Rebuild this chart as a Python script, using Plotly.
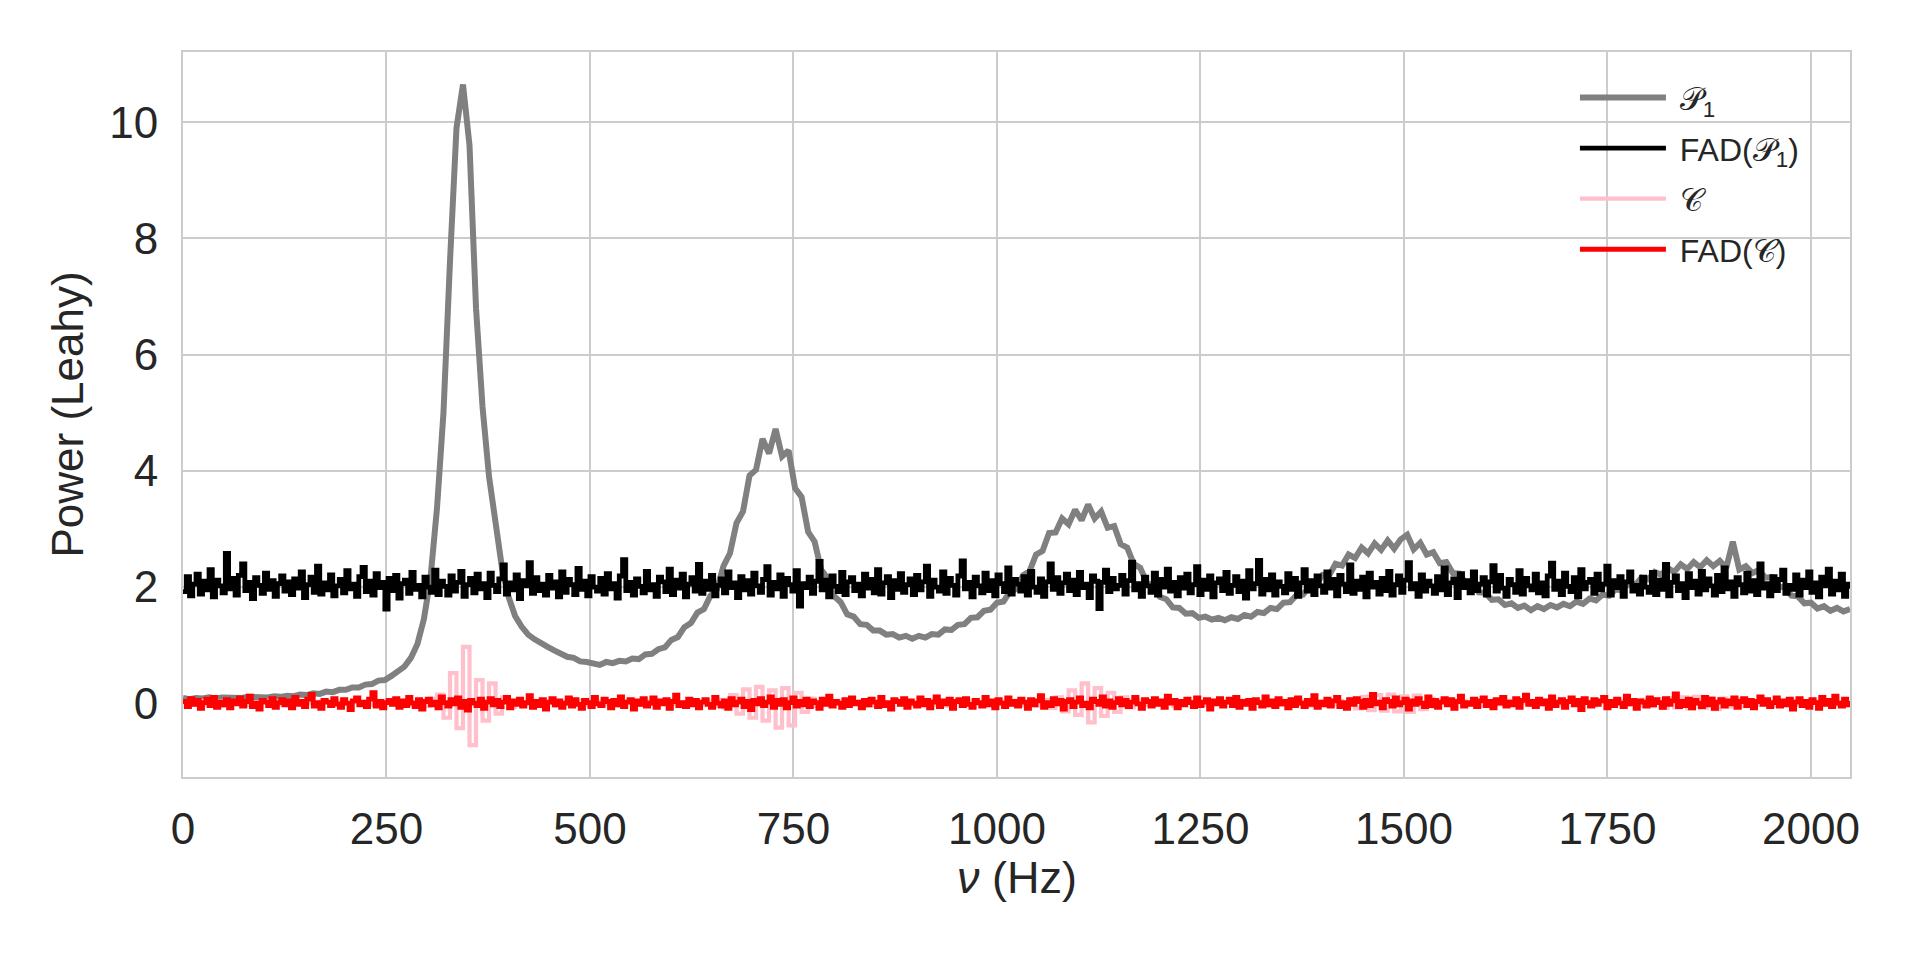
import plotly.graph_objects as go

# Frequency grids (Hz): bin width of each series
P1_DF = 8
FAD_DF = 4
C_DF = 8

# P1 power spectrum (Leahy), 8 Hz bins from 0 to 2048 Hz
p1 = [
    0.09, 0.07, 0.09, 0.08, 0.10, 0.08, 0.10, 0.09, 0.10, 0.09, 0.11, 0.10, 0.11, 0.10, 0.12, 0.11,
    0.13, 0.12, 0.15, 0.14, 0.17, 0.16, 0.20, 0.19, 0.23, 0.23, 0.27, 0.27, 0.32, 0.33, 0.39, 0.40,
    0.47, 0.54, 0.63, 0.78, 1.02, 1.45, 2.15, 3.35, 5.0, 7.6, 9.9, 10.65, 9.6, 6.8, 5.1, 3.9,
    3.05, 2.32, 1.83, 1.50, 1.32, 1.18, 1.10, 1.02, 0.97, 0.91, 0.86, 0.80, 0.78, 0.72, 0.71, 0.68,
    0.66, 0.71, 0.69, 0.73, 0.72, 0.77, 0.76, 0.84, 0.85, 0.93, 0.96, 1.09, 1.14, 1.31, 1.38, 1.56,
    1.62, 1.85, 1.96, 2.36, 2.58, 3.10, 3.30, 3.92, 4.02, 4.55, 4.30, 4.72, 4.25, 4.35, 3.70, 3.55,
    2.95, 2.78, 2.30, 2.15, 1.84, 1.74, 1.53, 1.49, 1.36, 1.35, 1.25, 1.25, 1.18, 1.19, 1.13, 1.16,
    1.11, 1.16, 1.13, 1.19, 1.18, 1.27, 1.26, 1.35, 1.36, 1.47, 1.48, 1.59, 1.61, 1.73, 1.75, 1.92,
    1.97, 2.20, 2.27, 2.56, 2.62, 2.93, 2.94, 3.18, 3.08, 3.33, 3.15, 3.42, 3.18, 3.30, 3.02, 3.05,
    2.74, 2.68, 2.40, 2.33, 2.08, 2.02, 1.83, 1.79, 1.65, 1.64, 1.54, 1.55, 1.47, 1.49, 1.44, 1.47,
    1.43, 1.48, 1.45, 1.52, 1.49, 1.57, 1.55, 1.64, 1.62, 1.73, 1.74, 1.86, 1.87, 2.02, 2.04, 2.21,
    2.20, 2.40, 2.37, 2.56, 2.50, 2.68, 2.58, 2.75, 2.64, 2.80, 2.66, 2.82, 2.90, 2.65, 2.76, 2.56,
    2.60, 2.41, 2.43, 2.24, 2.23, 2.06, 2.05, 1.91, 1.90, 1.78, 1.79, 1.69, 1.72, 1.64, 1.68, 1.60,
    1.67, 1.62, 1.69, 1.65, 1.71, 1.67, 1.75, 1.71, 1.80, 1.77, 1.87, 1.85, 1.96, 1.94, 2.06, 2.03,
    2.16, 2.13, 2.26, 2.21, 2.33, 2.26, 2.39, 2.31, 2.43, 2.34, 2.46, 2.36, 2.45, 2.33, 2.78, 2.30,
    2.36, 2.24, 2.29, 2.16, 2.17, 2.01, 1.99, 1.85, 1.84, 1.72, 1.73, 1.63, 1.67, 1.59, 1.64, 1.58,
    1.62,
]

# FAD-corrected P1, 4 Hz bins
fad_p1 = [
    1.92, 2.18, 1.85, 2.05, 2.22, 1.88, 2.10, 1.95, 2.30, 1.83, 2.12, 2.02, 1.90, 2.58, 1.97, 2.15,
    1.86, 2.20, 2.40, 1.94, 2.08, 1.80, 2.16, 2.03, 1.89, 2.24, 1.96, 2.11, 1.84, 2.06, 2.19, 1.93,
    2.09, 1.87, 2.14, 1.98, 2.26, 1.82, 2.04, 2.17, 1.91, 2.36, 1.88, 2.07, 1.95, 2.21, 1.85, 2.02,
    2.13, 1.90, 2.28, 1.97, 2.05, 1.84, 2.18, 2.34, 1.92, 2.10, 1.86, 2.23, 1.99, 2.08, 1.62, 2.15,
    1.94, 2.20, 1.81, 2.06, 2.12, 1.89, 2.25, 1.96, 2.03, 1.83, 2.17, 2.00, 1.91, 2.29, 1.87, 2.10,
    2.01, 1.86, 2.19, 1.93, 2.08, 2.27, 1.84, 2.04, 2.15, 1.90, 2.22, 1.97, 2.06, 1.82, 2.24, 2.03,
    1.92, 2.14, 2.38, 1.88, 2.07, 1.95, 2.21, 1.80, 2.11, 2.02, 2.42, 1.89, 2.16, 1.94, 2.05, 1.86,
    2.20, 1.98, 2.09, 1.83, 2.26, 1.91, 2.13, 2.04, 1.87, 2.32, 1.96, 2.10, 1.85, 2.18, 2.00, 1.93,
    2.15, 1.88, 2.23, 1.97, 2.06, 1.81, 2.19, 2.47, 1.94, 2.08, 1.86, 2.14, 2.01, 1.90, 2.27, 1.95,
    2.04, 1.84, 2.17, 2.09, 1.92, 2.31, 1.87, 2.12, 1.98, 2.22, 1.83, 2.05, 2.16, 1.93, 2.39, 1.89,
    2.10, 1.96, 2.20, 1.85, 2.03, 2.14, 1.90, 2.26, 1.99, 2.07, 1.82, 2.18, 1.95, 2.11, 1.88, 2.24,
    2.02, 1.91, 2.13, 2.35, 1.86, 2.08, 1.97, 2.21, 1.84, 2.15, 2.04, 1.93, 2.28, 1.67, 2.06, 1.99,
    2.17, 1.89, 2.10, 2.44, 1.95, 2.12, 1.83, 2.19, 2.01, 1.92, 2.25, 1.87, 2.09, 2.16, 1.94, 2.05,
    1.85, 2.22, 1.98, 2.13, 1.90, 2.30, 1.88, 2.07, 2.18, 1.82, 2.11, 1.96, 2.23, 1.91, 2.04, 2.14,
    1.87, 2.20, 1.95, 2.09, 2.36, 1.84, 2.12, 2.00, 1.93, 2.26, 1.89, 2.15, 2.03, 1.86, 2.19, 2.45,
    1.97, 2.08, 1.83, 2.17, 2.02, 1.90, 2.24, 1.94, 2.11, 1.85, 2.21, 2.06, 1.92, 2.33, 1.88, 2.13,
    2.05, 1.93, 2.18, 1.86, 2.27, 2.00, 1.91, 2.14, 1.84, 2.09, 2.40, 1.96, 2.16, 1.89, 2.07, 2.22,
    1.94, 2.12, 1.87, 2.25, 1.99, 2.05, 1.82, 2.19, 2.10, 1.63, 2.08, 2.29, 1.92, 2.15, 1.97, 2.03,
    2.20, 1.88, 2.11, 2.43, 1.95, 2.06, 1.84, 2.17, 2.02, 1.91, 2.24, 1.86, 2.13, 2.00, 2.31, 1.93,
    2.08, 1.85, 2.16, 1.98, 2.22, 1.90, 2.04, 2.35, 1.87, 2.12, 1.96, 2.19, 1.83, 2.07, 2.14, 1.94,
    2.25, 1.89, 2.03, 2.18, 1.92, 2.10, 1.81, 2.28, 1.97, 2.06, 2.46, 1.88, 2.13, 1.95, 2.21, 1.86,
    2.09, 2.01, 1.90, 2.23, 1.96, 2.15, 1.84, 2.07, 2.30, 1.93, 2.11, 1.87, 2.19, 2.02, 1.91, 2.26,
    1.98, 2.13, 1.85, 2.20, 2.05, 1.92, 2.38, 1.89, 2.10, 1.96, 2.17, 1.83, 2.24, 2.00, 2.08, 1.88,
    2.15, 1.94, 2.27, 1.86, 2.04, 2.19, 1.91, 2.12, 2.42, 1.97, 2.06, 1.84, 2.21, 1.93, 2.10, 2.02,
    1.89, 2.18, 1.95, 2.33, 1.87, 2.07, 2.14, 1.82, 2.23, 1.99, 2.11, 1.90, 2.26, 1.94, 2.05, 2.16,
    1.86, 2.09, 2.37, 1.93, 2.20, 1.98, 1.84, 2.13, 2.04, 1.91, 2.28, 1.88, 2.15, 2.02, 1.95, 2.22,
    1.90, 2.07, 1.85, 2.19, 2.41, 1.96, 2.10, 1.87, 2.24, 2.01, 1.92, 2.16, 1.83, 2.30, 1.97, 2.08,
    2.13, 1.89, 2.22, 1.95, 2.05, 2.36, 1.86, 2.11, 1.99, 2.18, 1.84, 2.09, 2.26, 1.93, 2.03, 1.88,
    2.17, 2.00, 1.91, 2.25, 1.87, 2.12, 1.96, 2.39, 1.85, 2.08, 2.19, 1.94, 2.06, 1.82, 2.23, 1.99,
    2.10, 1.88, 2.27, 1.95, 2.14, 2.02, 1.86, 2.20, 1.92, 2.33, 1.97, 2.09, 1.84, 2.16, 2.04, 1.90,
    2.24, 1.93, 2.11, 1.87, 2.40, 1.98, 2.06, 1.85, 2.18, 1.94, 2.13, 2.29, 1.89, 2.03, 1.96, 2.21,
    1.86, 2.12, 1.99, 2.26, 1.91, 2.07, 1.83, 2.17, 2.02, 2.31, 1.88, 2.10, 1.95, 2.22, 1.84, 2.05,
    1.97,
]

# Cross spectrum C, 8 Hz bins
c_spec = [
    0.02, -0.03, 0.04, -0.02, 0.01, 0.03, -0.04, 0.02, -0.01, 0.03, -0.03, 0.02, 0.04, -0.02, 0.01, -0.03,
    0.02, 0.03, -0.02, 0.01, -0.04, 0.03, 0.02, -0.03, 0.04, -0.01, 0.02, -0.03, 0.03, -0.02, 0.01, 0.04,
    -0.02, 0.03, -0.03, 0.02, 0.04, -0.05, 0.08, 0.15, -0.25, 0.52, -0.43, 0.97, -0.72, 0.40, -0.30, 0.34,
    -0.18, 0.10, -0.06, 0.03, -0.02, 0.04, -0.03, 0.02, 0.01, -0.04, 0.03, -0.02, 0.02, 0.04, -0.03, 0.01,
    0.03, -0.02, 0.02, -0.04, 0.03, 0.01, -0.03, 0.04, -0.02, 0.02, 0.03, -0.01, -0.03, 0.02, 0.04, -0.02,
    0.03, -0.04, 0.06, -0.08, 0.14, -0.18, 0.24, -0.25, 0.28, -0.30, 0.22, -0.42, 0.26, -0.38, 0.18, -0.15,
    0.08, -0.05, 0.03, -0.02, 0.04, -0.03, 0.02, -0.01, 0.03, -0.04, 0.02, 0.01, -0.03, 0.04, -0.02, 0.03,
    -0.03, 0.02, 0.04, -0.02, 0.01, -0.04, 0.03, 0.02, -0.03, 0.04, -0.01, 0.02, -0.03, 0.03, 0.01, -0.02,
    0.04, -0.03, 0.02, -0.04, 0.06, -0.08, 0.10, -0.14, 0.22, -0.20, 0.34, -0.33, 0.26, -0.22, 0.18, -0.15,
    0.10, -0.07, 0.05, -0.03, 0.02, 0.04, -0.02, 0.03, -0.04, 0.01, 0.03, -0.02, 0.02, -0.03, 0.04, -0.01,
    0.02, -0.03, 0.04, -0.02, 0.01, 0.03, -0.04, 0.02, -0.03, 0.04, 0.01, -0.02, 0.03, -0.04, 0.02, 0.03,
    -0.02, 0.04, -0.05, 0.07, -0.09, 0.11, -0.12, 0.14, -0.13, 0.15, -0.14, 0.12, -0.15, 0.13, -0.10, 0.08,
    -0.06, 0.05, -0.03, 0.02, 0.04, -0.02, 0.03, -0.04, 0.01, 0.03, -0.02, 0.04, -0.03, 0.02, 0.01, -0.03,
    0.04, -0.02, 0.03, -0.03, 0.02, 0.04, -0.01, 0.03, -0.04, 0.02, 0.03, -0.02, 0.04, -0.03, 0.05, -0.04,
    0.06, -0.05, 0.07, -0.08, 0.09, -0.07, 0.10, -0.09, 0.11, -0.08, 0.09, -0.10, 0.08, -0.06, 0.07, -0.05,
    0.04, -0.03, 0.02, 0.03, -0.04, 0.02, -0.02, 0.04, -0.03, 0.01, 0.03, -0.02, 0.04, -0.03, 0.02, -0.01,
    0.02,
]

# FAD-corrected C, 4 Hz bins
fad_c = [
    0.03, -0.06, 0.08, -0.02, 0.05, -0.09, 0.01, 0.07, -0.04, 0.10, -0.07, 0.02, -0.03, 0.06, -0.08, 0.04,
    -0.01, 0.09, -0.05, 0.03, 0.12, -0.06, 0.00, -0.10, 0.05, 0.02, -0.04, 0.08, -0.07, 0.01, 0.06, -0.03,
    0.04, -0.08, 0.10, -0.02, 0.03, -0.06, 0.07, 0.15, -0.05, 0.01, -0.09, 0.05, 0.02, -0.04, 0.08, -0.01,
    -0.07, 0.06, 0.00, -0.11, 0.04, 0.09, -0.03, 0.02, -0.06, 0.07, 0.18, -0.05, 0.03, -0.08, 0.01, 0.05,
    -0.02, 0.08, -0.07, 0.04, -0.04, 0.10, 0.00, -0.06, 0.06, -0.10, 0.03, 0.07, -0.03, 0.02, -0.08, 0.11,
    0.01, -0.05, 0.06, -0.01, 0.09, -0.07, 0.03, -0.12, 0.05, 0.00, -0.04, 0.07, -0.09, 0.02, 0.08, -0.03,
    0.05, -0.06, 0.02, 0.10, -0.08, 0.04, -0.02, 0.07, -0.05, 0.01, 0.13, -0.07, 0.03, -0.04, 0.06, -0.10,
    0.02, 0.08, -0.03, 0.04, -0.07, 0.00, 0.09, -0.05, 0.06, -0.02, -0.09, 0.05, 0.01, -0.06, 0.10, -0.01,
    -0.04, 0.07, 0.03, -0.08, 0.05, -0.03, 0.11, -0.06, 0.02, 0.06, -0.10, 0.04, -0.02, 0.08, -0.05, 0.00,
    0.09, -0.07, 0.04, -0.01, 0.06, -0.09, 0.03, 0.14, -0.04, 0.01, -0.06, 0.07, -0.03, 0.05, -0.08, 0.02,
    0.06, -0.02, -0.07, 0.10, 0.00, -0.05, 0.04, -0.09, 0.08, -0.03, 0.02, 0.07, -0.06, 0.03, -0.11, 0.05,
    -0.01, 0.08, -0.04, 0.02, 0.11, -0.07, 0.05, -0.02, 0.06, -0.08, 0.01, 0.09, -0.05, 0.03, -0.03, 0.07,
    -0.06, 0.04, 0.01, -0.09, 0.07, -0.02, 0.12, -0.05, 0.03, 0.00, -0.07, 0.06, -0.04, 0.09, -0.01, 0.02,
    -0.08, 0.05, -0.03, 0.07, 0.02, -0.06, 0.10, -0.04, 0.01, -0.10, 0.06, 0.03, -0.02, 0.08, -0.07, 0.04,
    0.00, -0.05, 0.09, -0.03, 0.05, -0.08, 0.02, 0.11, -0.06, 0.04, -0.01, 0.07, -0.09, 0.03, 0.06, -0.04,
    0.08, -0.02, -0.07, 0.05, 0.01, -0.05, 0.10, -0.03, 0.04, -0.08, 0.06, 0.00, -0.06, 0.09, -0.02, 0.03,
    -0.05, 0.07, 0.02, -0.09, 0.06, -0.03, 0.04, 0.13, -0.07, 0.01, -0.04, 0.08, -0.01, 0.05, -0.10, 0.03,
    0.06, -0.06, 0.02, 0.09, -0.04, 0.00, -0.08, 0.07, 0.03, -0.02, 0.11, -0.05, 0.04, -0.07, 0.01, 0.08,
    -0.03, 0.05, -0.06, 0.02, 0.10, -0.01, -0.09, 0.06, 0.03, -0.05, 0.08, -0.02, 0.04, -0.07, 0.12, 0.00,
    0.05, -0.08, 0.03, -0.03, 0.07, 0.01, -0.06, 0.09, -0.04, 0.02, 0.06, -0.10, 0.04, -0.01, 0.08, -0.05,
    0.02, 0.07, -0.04, 0.10, -0.07, 0.03, -0.02, 0.05, -0.09, 0.06, 0.01, -0.05, 0.11, -0.03, 0.04, -0.06,
    0.08, -0.01, 0.03, -0.08, 0.06, -0.04, 0.09, 0.00, -0.06, 0.05, -0.02, 0.13, -0.07, 0.02, -0.03, 0.07,
    -0.05, 0.04, 0.10, -0.06, 0.01, -0.09, 0.06, -0.02, 0.08, 0.03, -0.07, 0.05, -0.04, 0.15, -0.01, 0.02,
    -0.08, 0.06, 0.03, -0.05, 0.09, -0.03, 0.01, 0.07, -0.10, 0.04, -0.02, 0.08, 0.00, -0.06, 0.11, -0.04,
    0.05, -0.07, 0.02, 0.08, -0.03, 0.06, -0.09, 0.03, 0.12, -0.05, 0.01, -0.02, 0.07, -0.06, 0.04, 0.09,
    -0.04, 0.03, -0.08, 0.06, 0.00, 0.10, -0.05, 0.02, -0.03, 0.08, -0.07, 0.05, 0.14, -0.02, 0.03, -0.06,
    0.07, -0.01, 0.04, -0.09, 0.11, -0.04, 0.02, 0.06, -0.07, 0.03, 0.09, -0.03, 0.05, -0.11, 0.08, 0.01,
    -0.05, 0.06, -0.02, 0.04, 0.10, -0.08, 0.03, -0.04, 0.07, 0.00, -0.06, 0.12, -0.01, 0.05, -0.09, 0.04,
    0.02, -0.05, 0.09, -0.03, 0.06, 0.01, -0.07, 0.08, -0.02, 0.04, 0.16, -0.06, 0.03, -0.04, 0.07, -0.08,
    0.05, 0.00, -0.06, 0.10, -0.03, 0.07, -0.09, 0.02, 0.06, -0.05, 0.04, -0.01, 0.09, -0.07, 0.03, 0.08,
    -0.04, 0.05, -0.08, 0.03, 0.11, -0.02, 0.06, -0.06, 0.01, 0.09, -0.05, 0.04, -0.03, 0.07, -0.10, 0.02,
    0.08, -0.04, 0.03, -0.07, 0.06, 0.01, -0.09, 0.10, -0.02, 0.05, -0.06, 0.12, 0.00, -0.05, 0.07, -0.03,
    0.04,
]

labels = ["\u00a0𝒫<sub>1</sub>", "\u00a0FAD(𝒫<sub>1</sub>)", "\u00a0𝒞", "\u00a0FAD(𝒞)"]
colors = ["#808080", "#000000", "#ffc0cb", "#ff0000"]
shapes = ["linear", "hv", "hv", "hv"]
widths = [6.0, 4.8, 4.2, 4.8]

X_TICKS = [0, 250, 500, 750, 1000, 1250, 1500, 1750, 2000]
Y_TICKS = [0, 2, 4, 6, 8, 10]

FONT = "Liberation Sans, Arial, Helvetica, sans-serif"
TXT = "#262626"

fig = go.Figure()
series = [(p1, P1_DF), (fad_p1, FAD_DF), (c_spec, C_DF), (fad_c, FAD_DF)]
for (vals, df), name, col, shp, w in zip(series, labels, colors, shapes, widths):
    fig.add_trace(go.Scatter(
        x0=0, dx=df, y=vals, mode="lines", name=name,
        line=dict(color=col, width=w, shape=shp),
        legendgroup=name,
    ))

axis_common = dict(
    showgrid=True, gridcolor="#cccccc", gridwidth=2,
    zeroline=False, showline=True, linecolor="#cccccc", linewidth=2, mirror=True,
    ticks="outside", tickcolor="rgba(0,0,0,0)",
    tickfont=dict(family=FONT, size=44, color=TXT),
)

fig.update_layout(
    width=1920, height=960,
    margin=dict(l=183, r=70, t=52, b=183, autoexpand=False),
    paper_bgcolor="white", plot_bgcolor="white",
    font=dict(family=FONT, color=TXT),
    xaxis=dict(range=[0, 2048], tickvals=X_TICKS, ticklen=12, **axis_common),
    yaxis=dict(range=[-1.27, 11.21], tickvals=Y_TICKS, ticklen=14, **axis_common),
    legend=dict(
        x=0.835, y=0.975, xanchor="left", yanchor="top",
        bgcolor="rgba(0,0,0,0)", font=dict(family=FONT, size=32, color=TXT),
        traceorder="grouped", tracegroupgap=6, itemwidth=86,
    ),
    showlegend=True,
    annotations=[
        dict(text="<i>ν</i> (Hz)", xref="paper", yref="paper", x=0.5, y=-0.139,
             xanchor="center", yanchor="middle", showarrow=False,
             font=dict(family=FONT, size=45, color=TXT)),
        dict(text="Power (Leahy)", xref="paper", yref="paper", x=-0.069, y=0.5,
             xanchor="center", yanchor="middle", showarrow=False, textangle=-90,
             font=dict(family=FONT, size=44, color=TXT)),
    ],
)

fig.write_html("out.html")
